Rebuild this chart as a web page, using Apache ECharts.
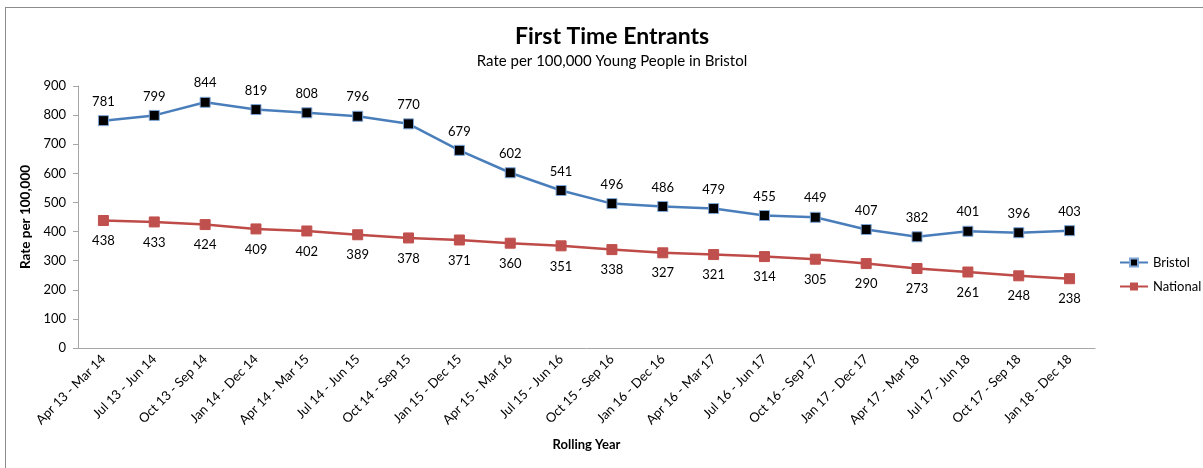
<!DOCTYPE html>
<html><head><meta charset="utf-8">
<script src="https://cdn.jsdelivr.net/npm/echarts@6/dist/echarts.min.js"></script>
<style>
html,body{margin:0;padding:0;background:#fff;}
#frame{position:absolute;left:5px;top:7px;width:1205px;height:470px;border:1px solid #8c8c8c;box-sizing:border-box;}
#chart{position:absolute;left:0;top:0;width:1203px;height:468px;}
</style></head>
<body>
<div id="frame"></div>
<div id="chart"></div>
<script>
const categories = ["Apr 13 - Mar 14","Jul 13 - Jun 14","Oct 13 - Sep 14","Jan 14 - Dec 14","Apr 14 - Mar 15","Jul 14 - Jun 15","Oct 14 - Sep 15","Jan 15 - Dec 15","Apr 15 - Mar 16","Jul 15 - Jun 16","Oct 15 - Sep 16","Jan 16 - Dec 16","Apr 16 - Mar 17","Jul 16 - Jun 17","Oct 16 - Sep 17","Jan 17 - Dec 17","Apr 17 - Mar 18","Jul 17 - Jun 18","Oct 17 - Sep 18","Jan 18 - Dec 18"];
const bristol = [781,799,844,819,808,796,770,679,602,541,496,486,479,455,449,407,382,401,396,403];
const national = [438,433,424,409,402,389,378,371,360,351,338,327,321,314,305,290,273,261,248,238];
const yTicks = [0,100,200,300,400,500,600,700,800,900];
const FONT = 'Lato';
const chart = echarts.init(document.getElementById('chart'));
chart.setOption({
  animation:false,
  textStyle:{fontFamily:FONT},
  title:{text:'First Time Entrants',subtext:'Rate per 100,000 Young People in Bristol',left:607,textAlign:'center',top:20,
    textStyle:{fontFamily:FONT,fontSize:23,fontWeight:'bold',color:'#000'},
    subtextStyle:{fontFamily:FONT,fontSize:15,color:'#000'},itemGap:6},
  legend:{orient:'vertical',left:1114,top:251,itemGap:11,itemWidth:28,itemHeight:10,
    textStyle:{fontFamily:FONT,fontSize:13,color:'#000'},data:['Bristol','National']},
  grid:{left:78,top:86,width:1017,bottom:120},
  xAxis:{type:'category',data:categories,boundaryGap:true,name:'Rolling Year',nameLocation:'middle',nameGap:90,
    nameTextStyle:{fontFamily:FONT,fontWeight:'bold',fontSize:13,color:'#000'},
    axisLine:{lineStyle:{color:'#a6a6a6'}},axisTick:{show:false},
    axisLabel:{rotate:45,interval:0,fontFamily:FONT,fontSize:13,color:'#000',margin:9}},
  yAxis:{type:'value',min:0,max:900,interval:100,name:'Rate per 100,000',nameLocation:'middle',nameGap:39,
    nameTextStyle:{fontFamily:FONT,fontWeight:'bold',fontSize:13.5,color:'#000'},
    axisLine:{show:true,lineStyle:{color:'#a6a6a6'}},axisTick:{show:true,length:5,lineStyle:{color:'#a6a6a6'}},
    splitLine:{show:false},
    axisLabel:{fontFamily:FONT,fontSize:13,color:'#000',margin:12,formatter:v=>yTicks.includes(v)?String(v):''}},
  series:[
    {name:'Bristol',type:'line',data:bristol,symbol:'rect',symbolSize:10,
      lineStyle:{color:'#4a7ebb',width:2.5},itemStyle:{color:'#000',borderColor:'#7ea6d8',borderWidth:1},
      label:{show:true,position:'top',distance:7,fontFamily:FONT,fontSize:13,color:'#000'}},
    {name:'National',type:'line',data:national,symbol:'rect',symbolSize:10,
      lineStyle:{color:'#be4b48',width:2.5},itemStyle:{color:'#c0504d',borderColor:'#c0504d'},
      label:{show:true,position:'bottom',distance:8.5,fontFamily:FONT,fontSize:13,color:'#000'}}
  ]
});
</script>
</body></html>
